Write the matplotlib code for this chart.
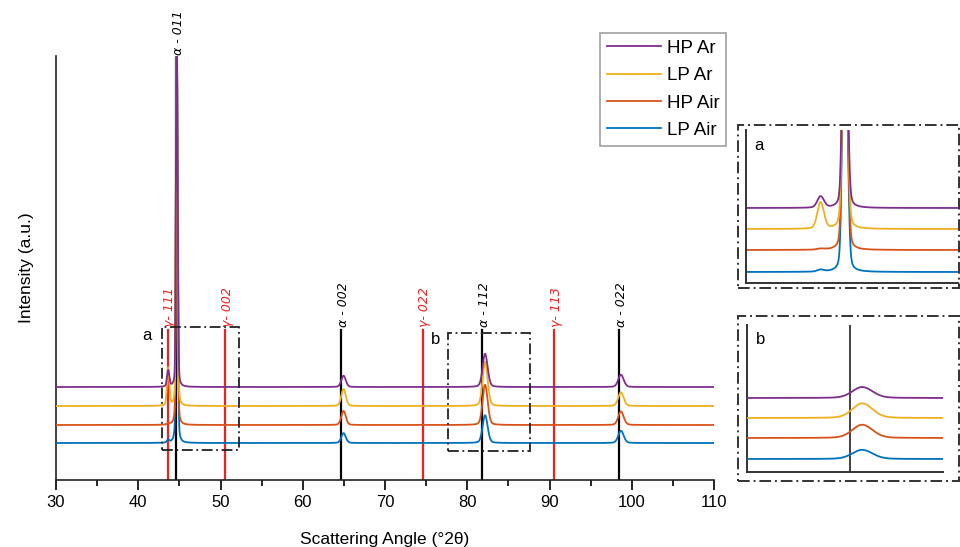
import numpy as np
import matplotlib
matplotlib.use("Agg")
import matplotlib.pyplot as plt
from matplotlib.patches import Rectangle

plt.rcParams['font.family'] = ['Liberation Sans', 'DejaVu Sans']

# ---------------- data ----------------
samples = ["LP Air", "HP Air", "LP Ar", "HP Ar"]
colors = ["#0072BD", "#D95319", "#EDB120", "#7E2F8E"]
offsets_main = [37, 55, 74, 93]

peak_pos = [43.6, 44.65, 64.9, 82.1, 98.6]
peak_hwhm = [0.15, 0.09, 0.3, 0.33, 0.35]
# heights per sample (LP Air, HP Air, LP Ar, HP Ar) for each peak
peak_heights = {
    "LP Air": [2, 1, 7, 20, 9],
    "HP Air": [1, 1, 10, 29, 10],
    "LP Ar": [28, 1, 12, 32, 10],
    "HP Ar": [12, 1, 8, 24, 9],
}
main_peak_heights = {"LP Air": 370, "HP Air": 350, "LP Ar": 340, "HP Ar": 327}

ref_alpha = [44.6, 64.6, 81.8, 98.4]
ref_alpha_labels = ["α - 011", "α - 002", "α - 112", "α - 022"]
ref_gamma = [43.6, 50.6, 74.6, 90.6]
ref_gamma_labels = ["γ- 111", "γ- 002", "γ- 022", "γ- 113"]

xticks = [30, 40, 50, 60, 70, 80, 90, 100, 110]

offsets_a = [11, 33, 54, 75]
offsets_b = [13, 34, 54, 74]


def pattern(x, name):
    h = list(peak_heights[name])
    h[1] = main_peak_heights[name]
    y = np.zeros_like(x)
    for p, w, a in zip(peak_pos, peak_hwhm, h):
        for shift, frac in ((0.0, 1.0), (0.0028 * p, 0.5)):
            c = p + shift
            g = np.exp(-0.5 * ((x - c) / (w / 1.18)) ** 2)
            lo = 1.0 / (1.0 + ((x - c) / w) ** 2)
            y += frac * a * (0.75 * g + 0.25 * lo)
    return y


x = np.linspace(30, 110, 8000)

fig = plt.figure(figsize=(9.6, 5.47), dpi=100)
W, H = 960, 547


def fig_rect(l, t, r, b):
    return [l / W, 1 - b / H, (r - l) / W, (b - t) / H]


ax = fig.add_axes(fig_rect(56, 56, 714, 480))
for name, c, off in zip(samples, colors, offsets_main):
    ax.plot(x, pattern(x, name) + off, color=c, lw=1.3, label=name, zorder=3)

line_top = 150
for xr, lab in zip(ref_alpha, ref_alpha_labels):
    top = 422 if lab == "α - 011" else line_top
    ax.plot([xr, xr], [0, top], color="black", lw=1.6, zorder=2)
    ax.text(xr + 0.3, top + 3, lab, rotation=90, ha="center", va="bottom",
            fontsize=9, style="italic", family="DejaVu Sans", color="black")
for xr, lab in zip(ref_gamma, ref_gamma_labels):
    ax.plot([xr, xr], [0, line_top], color="#F02020", lw=1.6, zorder=2)
    ax.text(xr + 0.25, line_top + 3, lab, rotation=90, ha="center", va="bottom",
            fontsize=9, style="italic", family="DejaVu Sans", color="#F02020")

# dash-dot zoom boxes in main
ax.add_patch(Rectangle((42.84, 30), 52.3 - 42.84, 153 - 30, fill=False,
                       ls=(0, (6, 2, 1, 2)), lw=1.3, ec="#222222", zorder=4))
ax.add_patch(Rectangle((77.66, 29), 87.63 - 77.66, 147 - 29, fill=False,
                       ls=(0, (6, 2, 1, 2)), lw=1.3, ec="#222222", zorder=4))
ax.text(41.0, 145, "a", fontsize=12, ha="center", va="center")
ax.text(76.2, 140, "b", fontsize=12, ha="center", va="center")

ax.set_xlim(30, 110)
ax.set_ylim(0, 424)
ax.set_xticks(xticks)
ax.set_xticks(np.arange(35, 110, 10), minor=True)
ax.set_yticks([])
ax.tick_params(axis="x", which="major", length=7, width=1.2, labelsize=12)
ax.tick_params(axis="x", which="minor", length=4, width=1.2)
for s in ["top", "right"]:
    ax.spines[s].set_visible(False)
for s in ["left", "bottom"]:
    ax.spines[s].set_linewidth(1.2)
    ax.spines[s].set_color("#222222")
ax.set_xlabel("Scattering Angle (°2θ)", fontsize=12.5, labelpad=16)
ax.set_ylabel("Intensity (a.u.)", fontsize=12.5, labelpad=16)

handles, labels = ax.get_legend_handles_labels()
leg = fig.legend(handles[::-1], labels[::-1], loc="upper left",
                 bbox_to_anchor=(600 / W, 1 - 33 / H), fontsize=13.5,
                 frameon=True, fancybox=False, edgecolor="#888888",
                 handlelength=2.9, handletextpad=0.3, labelspacing=0.55,
                 borderpad=0.35, borderaxespad=0)
leg.get_frame().set_linewidth(1.2)

# ---------------- inset a ----------------
axa = fig.add_axes(fig_rect(746, 130, 958, 283))
xa = np.linspace(40.4, 49.6, 3000)
for name, c, off in zip(samples, colors, offsets_a):
    axa.plot(xa, 0.7 * pattern(xa, name) + off, color=c, lw=1.3)
axa.set_xlim(40.4, 49.6)
axa.set_ylim(0, 153)
axa.set_xticks([]); axa.set_yticks([])
for s in ["top", "right"]:
    axa.spines[s].set_visible(False)
for s in ["left", "bottom"]:
    axa.spines[s].set_linewidth(1.4)
    axa.spines[s].set_color("#333333")
axa.text(0.06, 0.9, "a", transform=axa.transAxes, fontsize=12, ha="center", va="center")

# ---------------- inset b ----------------
axb = fig.add_axes(fig_rect(747, 325, 943, 472))
xb = np.linspace(78.7, 84.6, 2000)
for name, c, off in zip(samples, colors, offsets_b):
    axb.plot(xb, 0.33 * pattern(xb, name) + off, color=c, lw=1.3, zorder=3)
axb.axvline(ref_alpha[2], color="#222222", lw=1.2, zorder=2)
axb.set_xlim(78.7, 84.6)
axb.set_ylim(0, 147)
axb.set_xticks([]); axb.set_yticks([])
for s in ["top", "right"]:
    axb.spines[s].set_visible(False)
for s in ["left", "bottom"]:
    axb.spines[s].set_linewidth(1.4)
    axb.spines[s].set_color("#333333")
axb.text(0.07, 0.9, "b", transform=axb.transAxes, fontsize=12, ha="center", va="center")

# dash-dot frames around insets (figure coordinates)
for (l, t, r, b) in [(738, 125, 959, 288), (738, 316, 959, 481)]:
    fig.add_artist(Rectangle((l / W, 1 - b / H), (r - l) / W, (b - t) / H,
                             transform=fig.transFigure, fill=False,
                             ls=(0, (6, 2, 1, 2)), lw=1.4, ec="#333333"))

fig.savefig("out.png", dpi=100)
